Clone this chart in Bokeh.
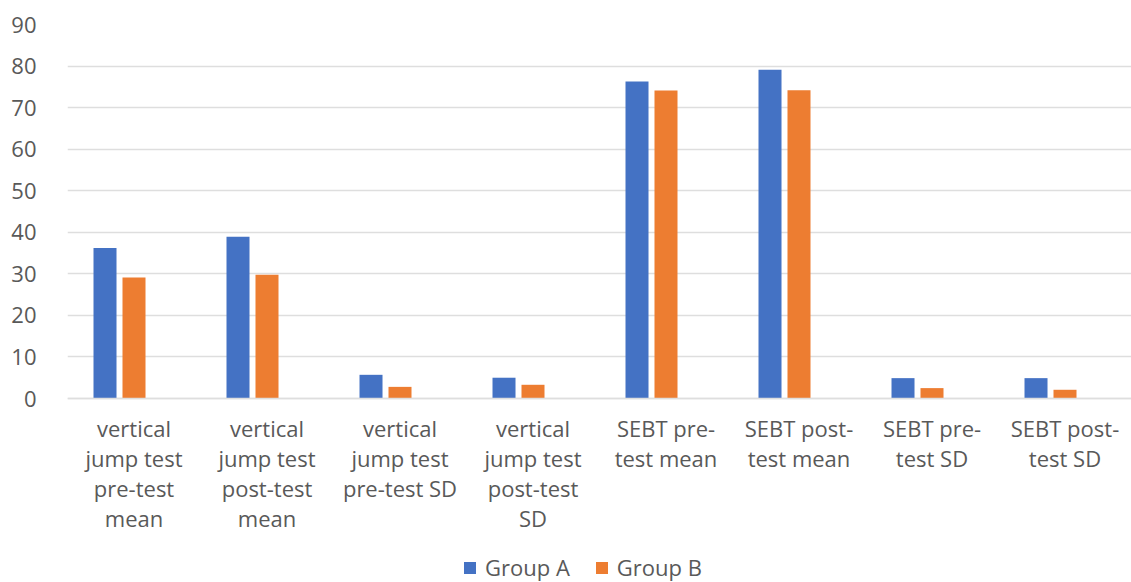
from bokeh.plotting import figure
from bokeh.models import ColumnDataSource, FactorRange, Range1d, Legend, LegendItem, FixedTicker
from bokeh.transform import dodge
from bokeh.embed import file_html
from bokeh.resources import INLINE

# Measures (multi-line axis labels)
categories = [
    "vertical\njump test\npre-test\nmean",
    "vertical\njump test\npost-test\nmean",
    "vertical\njump test\npre-test SD",
    "vertical\njump test\npost-test\nSD",
    "SEBT pre-\ntest mean",
    "SEBT post-\ntest mean",
    "SEBT pre-\ntest SD",
    "SEBT post-\ntest SD",
]
group_a = [36.2, 38.9, 5.7, 5.0, 76.3, 79.1, 4.9, 4.9]
group_b = [29.1, 29.8, 2.8, 3.3, 74.1, 74.2, 2.5, 2.1]
y_ticks = [0, 10, 20, 30, 40, 50, 60, 70, 80, 90]

BLUE = "#4472C4"
ORANGE = "#ED7D31"
TEXT = "#595959"
GRID = "#dedede"
FONT = "Open Sans"

W, H = 1131, 582
TOP, BASE = 24, 398          # pixel rows of the 90 line and the zero line
Y_MAX = 90
# the frame runs to the bottom edge; the category axis sits on the zero line
y_min = -Y_MAX * (H - BASE) / (BASE - TOP)

source = ColumnDataSource(dict(cat=categories, a=group_a, b=group_b))

p = figure(
    x_range=FactorRange(*categories, range_padding=0),
    y_range=Range1d(y_min, Y_MAX),
    width=W, height=H,
    output_backend="svg", toolbar_location=None,
    min_border_left=67, min_border_right=0, min_border_top=TOP, min_border_bottom=0,
)

bar_w = 0.173
ra = p.vbar(x=dodge("cat", -0.218, range=p.x_range), top="a", bottom=0, width=bar_w,
            source=source, fill_color=BLUE, line_color=None)
rb = p.vbar(x=dodge("cat", 0.0, range=p.x_range), top="b", bottom=0, width=bar_w,
            source=source, fill_color=ORANGE, line_color=None)

p.outline_line_color = None
p.background_fill_color = "white"
p.border_fill_color = "white"

p.xgrid.grid_line_color = None
p.ygrid.grid_line_color = GRID
p.ygrid.grid_line_width = 1.5
p.yaxis.ticker = FixedTicker(ticks=y_ticks)

for ax in (p.xaxis[0], p.yaxis[0]):
    ax.major_tick_line_color = None
    ax.minor_tick_line_color = None
    ax.major_label_text_color = TEXT
    ax.major_label_text_font = FONT
    ax.major_label_text_font_size = "22px"

p.yaxis.axis_line_color = None
p.yaxis.major_label_standoff = 25
p.xaxis.fixed_location = 0
p.xaxis.axis_line_color = GRID
p.xaxis.axis_line_width = 1.5
p.xaxis.major_label_standoff = 8
p.xaxis.major_label_text_line_height = 1.0

legend = Legend(
    items=[LegendItem(label="Group A", renderers=[ra]),
           LegendItem(label="Group B", renderers=[rb])],
    orientation="horizontal",
    location=(395, 0),
    label_text_font=FONT, label_text_font_size="22px", label_text_color=TEXT,
    label_text_line_height=1.0,
    glyph_width=15, glyph_height=15, spacing=24, label_standoff=8,
    padding=0, margin=0,
    border_line_color=None, background_fill_alpha=0,
)
p.add_layout(legend, "center")

open("out.html", "w").write(file_html(p, INLINE))
